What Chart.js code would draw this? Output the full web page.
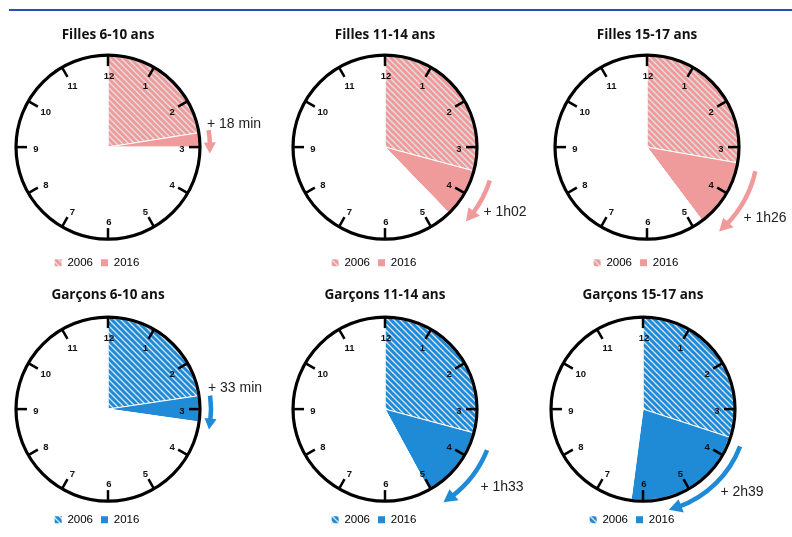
<!DOCTYPE html>
<html>
<head>
<meta charset="utf-8">
<script src="https://cdn.jsdelivr.net/npm/chart.js@4.4.1/dist/chart.umd.min.js"></script>
<style>
    html, body { margin: 0; padding: 0; background: #fff; }
    body { width: 792px; height: 537px; position: relative; overflow: hidden; }
    .topline { position: absolute; left: 9px; top: 9px; width: 783px; height: 2px; background: #2b4fae; }
    canvas { position: absolute; }
</style>
</head>
<body>
<div class="topline"></div>
<canvas id="c0"></canvas>
<canvas id="c1"></canvas>
<canvas id="c2"></canvas>
<canvas id="c3"></canvas>
<canvas id="c4"></canvas>
<canvas id="c5"></canvas>
<script>
////////////////////////data////////////////////////////////
// heures par jour sur un cadran de 12 h
const panelTitles = ['Filles 6-10 ans', 'Filles 11-14 ans', 'Filles 15-17 ans',
                     'Garçons 6-10 ans', 'Garçons 11-14 ans', 'Garçons 15-17 ans'];
const hours2006 = [2.7, 3.5, 3.33, 2.72, 3.5, 3.6];
const hours2016 = [3.0, 4.53, 4.77, 3.27, 5.05, 6.25];
const gainLabels = ['+ 18 min', '+ 1h02', '+ 1h26', '+ 33 min', '+ 1h33', '+ 2h39'];
const seriesLabels = ['2006', '2016'];
const clockLabels = ['12', '1', '2', '3', '4', '5', '6', '7', '8', '9', '10', '11'];

////////////////////////layout////////////////////////////////
const panelCx = [108, 385, 647, 108, 385, 643];
const panelRow = [0, 0, 0, 1, 1, 1];
const rowTop = [18, 280];
const rowBottom = [280, 537];
const titlePad = [{ top: 9, bottom: 2 }, { top: 7, bottom: 9 }];
// arrow: [from h, to h, radius]
const arrowSpec = [[2.68, 3.12, 102], [3.59, 4.42, 110], [3.42, 4.65, 111],
                   [2.75, 3.38, 103], [3.73, 4.93, 110], [3.7, 5.52, 104]];
const gainOffset = [[126, -23], [120, 65], [118, 71], [127, -21], [117, 78], [99, 83]];

const pink = '#ef9b9b';
const blue = '#1f8ad6';

function makeHatch(color, bg) {
    const s = 6;
    const c = document.createElement('canvas');
    c.width = s; c.height = s;
    const g = c.getContext('2d');
    g.fillStyle = bg;
    g.fillRect(0, 0, s, s);
    g.strokeStyle = color;
    g.lineWidth = 3;
    g.beginPath();
    for (let k = -1; k <= 1; k++) {
        g.moveTo(-1, k * s - 1);
        g.lineTo(s + 1, k * s + s + 1);
    }
    g.stroke();
    return g.createPattern(c, 'repeat');
}

function hourAngle(h) {
    return h / 12 * Math.PI * 2 - Math.PI / 2;
}

// cadran, graduations, flèche et libellé du gain
const clockFace = {
    id: 'clockFace',
    afterLayout(chart) {
        // legend sits a little left of the dial in the original
        chart.legend.left -= 11;
        chart.legend.right -= 11;
    },
    afterDatasetsDraw(chart, args, opts) {
        const arc = chart.getDatasetMeta(0).data[0];
        const cx = arc.x, cy = arc.y, r = arc.outerRadius;
        const ctx = chart.ctx;
        ctx.save();

        ctx.strokeStyle = '#000';
        ctx.lineWidth = 3.2;
        ctx.beginPath();
        ctx.arc(cx, cy, r + 1, 0, Math.PI * 2);
        ctx.stroke();

        ctx.lineWidth = 2.5;
        ctx.fillStyle = '#111';
        ctx.font = "bold 9.5px 'Liberation Sans', Arial, sans-serif";
        ctx.textAlign = 'center';
        ctx.textBaseline = 'middle';
        clockLabels.forEach((lab, i) => {
            const a = hourAngle(i);
            const ca = Math.cos(a), sa = Math.sin(a);
            ctx.beginPath();
            ctx.moveTo(cx + (r - 10) * ca, cy + (r - 10) * sa);
            ctx.lineTo(cx + (r + 1) * ca, cy + (r + 1) * sa);
            ctx.stroke();
            ctx.fillText(lab, cx + (r - 18) * ca + 1, cy + (r - 18) * sa + 2);
        });

        // flèche
        const [h1, h2, ra] = opts.arrow;
        const head = opts.head;
        const a1 = hourAngle(h1), a2 = hourAngle(h2);
        const aBase = a2 - head / ra;
        ctx.strokeStyle = opts.color;
        ctx.fillStyle = opts.color;
        ctx.lineWidth = 4.5;
        ctx.beginPath();
        ctx.arc(cx, cy, ra, a1, aBase + 0.03);
        ctx.stroke();
        ctx.beginPath();
        ctx.moveTo(cx + ra * Math.cos(a2), cy + ra * Math.sin(a2));
        ctx.lineTo(cx + (ra - head * 0.55) * Math.cos(aBase), cy + (ra - head * 0.55) * Math.sin(aBase));
        ctx.lineTo(cx + (ra + head * 0.55) * Math.cos(aBase), cy + (ra + head * 0.55) * Math.sin(aBase));
        ctx.closePath();
        ctx.fill();

        ctx.fillStyle = '#222';
        ctx.font = "14px 'Liberation Sans', Arial, sans-serif";
        ctx.fillText(opts.text, cx + opts.offset[0], cy + opts.offset[1]);
        ctx.restore();
    }
};

var clockCharts = [];

function createClockChart(i) {
    var canvas = document.getElementById('c' + i);
    var row = panelRow[i];
    var cx = panelCx[i];
    var left = Math.max(0, cx - 118);
    var right = Math.min(792, cx + 160);
    var width = right - left;
    var height = rowBottom[row] - rowTop[row];
    canvas.width = width;
    canvas.height = height;
    canvas.style.left = left + 'px';
    canvas.style.top = rowTop[row] + 'px';
    canvas.style.width = width + 'px';
    canvas.style.height = height + 'px';

    var solid = i < 3 ? pink : blue;
    var hatch = i < 3 ? makeHatch(pink, '#e2e2e2') : makeHatch(blue, '#dbe7f3');
    var slices = [hours2006[i], hours2016[i] - hours2006[i], 12 - hours2016[i]];

    return new Chart(canvas, {
        type: 'pie',
        data: {
            labels: [seriesLabels[0], seriesLabels[1], ''],
            datasets: [{
                data: slices,
                backgroundColor: [hatch, solid, '#ffffff'],
                borderColor: '#ffffff',
                borderWidth: 1
            }]
        },
        options: {
            responsive: false,
            animation: false,
            radius: 91,
            layout: {
                padding: {
                    left: 0,
                    right: width - 2 * (cx - left),
                    top: 0,
                    bottom: 1.5
                }
            },
            plugins: {
                title: {
                    display: true,
                    text: panelTitles[i],
                    color: '#111',
                    font: {
                        family: "'Open Sans', sans-serif",
                        size: 13.5,
                        weight: 'bold'
                    },
                    padding: titlePad[row]
                },
                legend: {
                    position: 'bottom',
                    labels: {
                        boxWidth: 7,
                        boxHeight: 7,
                        padding: 8,
                        color: '#404040',
                        font: {
                            family: "'Liberation Sans', Arial, sans-serif",
                            size: 11.5
                        },
                        generateLabels: function() {
                            return [
                                { text: seriesLabels[0], fillStyle: hatch, strokeStyle: hatch, lineWidth: 0, hidden: false, index: 0 },
                                { text: seriesLabels[1], fillStyle: solid, strokeStyle: solid, lineWidth: 0, hidden: false, index: 1 }
                            ];
                        }
                    }
                },
                tooltip: { enabled: false },
                clockFace: {
                    arrow: arrowSpec[i],
                    head: i % 3 === 0 ? 11 : 13,
                    color: solid,
                    text: gainLabels[i],
                    offset: gainOffset[i]
                }
            }
        },
        plugins: [clockFace]
    });
}

document.addEventListener('DOMContentLoaded', function() {
    for (let i = 0; i < panelTitles.length; i++) {
        clockCharts.push(createClockChart(i));
    }
});
</script>
</body>
</html>
